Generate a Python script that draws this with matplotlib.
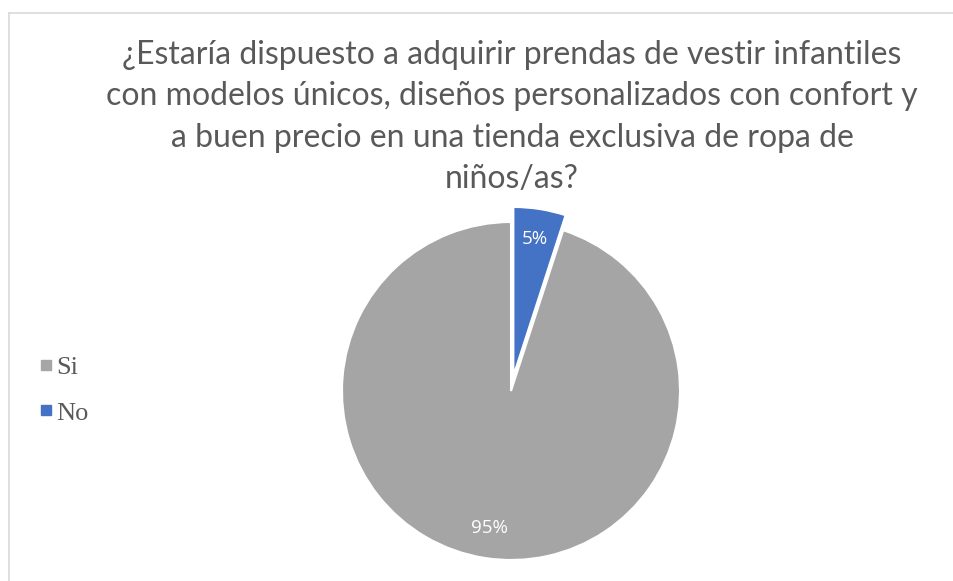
import matplotlib.pyplot as plt
from matplotlib.lines import Line2D

# survey answers
labels = ['No', 'Si']
values = [5, 95]
colors = ['#4472C4', '#A5A5A5']
explode = [0.09, 0]
legend_order = ['Si', 'No']

title = ('¿Estaría dispuesto a adquirir prendas de vestir infantiles\n'
         'con modelos únicos, diseños personalizados con confort y\n'
         'a buen precio en una tienda exclusiva de ropa de\n'
         'niños/as?')

W, H = 954, 581
fig = plt.figure(figsize=(W / 100, H / 100), dpi=100)

# place the pie: centre (511, 391) px from top-left, radius 169 px
r_px = 169
lim = 1.12
size = 2 * r_px * lim
cx, cy = 511, H - 391
ax = fig.add_axes([(cx - size / 2) / W, (cy - size / 2) / H, size / W, size / H])

wedges, texts, autotexts = ax.pie(values, colors=colors, explode=explode,
                                  startangle=90, counterclock=False,
                                  autopct='%1.0f%%', pctdistance=0.82,
                                  wedgeprops=dict(edgecolor='white', linewidth=1.5),
                                  textprops=dict(color='white', fontsize=13.5,
                                                 family='Open Sans'))
for w in wedges:
    w.set_clip_on(False)
ax.set_xlim(-lim, lim)
ax.set_ylim(-lim, lim)
ax.set_aspect('equal')
ax.axis('off')

fig.text(512 / W, 1 - 117 / H, title, ha='center', va='center', fontsize=23,
         color='#595959', family='Lato', linespacing=1.48)

# legend in Si, No order
handles = []
for name in legend_order:
    i = labels.index(name)
    handles.append(Line2D([], [], marker='s', linestyle='none', markersize=7.5,
                          color=wedges[i].get_facecolor()))
fig.legend(handles, legend_order, loc='center left', bbox_to_anchor=(13 / W, 1 - 390 / H),
           frameon=False, handletextpad=0.05, handlelength=0.7, labelspacing=0.85,
           prop=dict(family='Liberation Serif', size=19), labelcolor='#595959')

# chart frame (only left and top edges visible in the crop)
fig.add_artist(Line2D([9 / W, 9 / W], [0, 1 - 12.5 / H], color='#D9D9D9', linewidth=1.2))
fig.add_artist(Line2D([9 / W, 1], [1 - 12.5 / H, 1 - 12.5 / H], color='#D9D9D9', linewidth=1.2))

fig.savefig('out.png', dpi=100)
